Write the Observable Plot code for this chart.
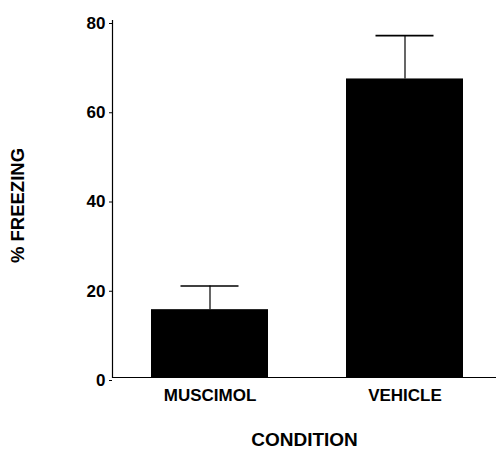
<!DOCTYPE html>
<html>
<head>
<meta charset="utf-8">
<script src="https://cdn.jsdelivr.net/npm/d3@7"></script>
<script src="https://cdn.jsdelivr.net/npm/@observablehq/plot@0.6"></script>
<style>
  html, body { margin: 0; padding: 0; background: #fff; }
  svg { font-family: "Liberation Sans", Arial, Helvetica, sans-serif; display: block; }
</style>
</head>
<body>
<div id="chart"></div>
<script>
const conditions = ["MUSCIMOL", "VEHICLE"];
const freezing = [15.2, 66.9];
const sem = [5.3, 9.7];
const yTicks = [0, 20, 40, 60, 80];
const xLabel = "CONDITION";
const yLabel = "% FREEZING";

const data = conditions.map((c, i) => ({condition: c, freezing: freezing[i], top: freezing[i] + sem[i]}));

const chart = Plot.plot({
  width: 496,
  height: 450,
  marginTop: 20,
  marginBottom: 73,
  marginLeft: 112,
  marginRight: 0,
  style: {fontFamily: "'Liberation Sans', Arial, Helvetica, sans-serif", color: "black", background: "white"},
  x: {domain: conditions, range: [112, 502], paddingInner: 0.4, paddingOuter: 0.2},
  y: {domain: [0, 80]},
  marks: [
    Plot.barY(data, {x: "condition", y: "freezing", fill: "black"}),
    Plot.ruleX(data, {x: "condition", y1: "freezing", y2: "top", stroke: "black", strokeWidth: 1.2}),
    Plot.tickY(data, {x: "condition", y: "top", stroke: "black", strokeWidth: 1.6, insetLeft: 29.5, insetRight: 29.5}),
    Plot.ruleY([0], {stroke: "black", strokeWidth: 1.2}),
    Plot.frame({anchor: "left", stroke: "black", strokeWidth: 1.2}),
    Plot.axisY({ticks: yTicks, tickSize: 3, tickPadding: 4, fontSize: 17, fontWeight: "bold", dy: 3, label: null, stroke: "black"}),
    Plot.axisX({tickSize: 0, tickPadding: 11, fontSize: 17, fontWeight: "bold", label: null}),
    Plot.text([xLabel], {frameAnchor: "bottom", textAnchor: "middle", dy: 62.5, lineAnchor: "middle", fontSize: 19, fontWeight: "bold", fill: "black"}),
    Plot.text([yLabel], {frameAnchor: "left", textAnchor: "middle", dx: -94, dy: 6.5, rotate: -90, lineAnchor: "middle", fontSize: 18.5, fontWeight: "bold", fill: "black"})
  ]
});
document.getElementById("chart").appendChild(chart);
</script>
</body>
</html>
